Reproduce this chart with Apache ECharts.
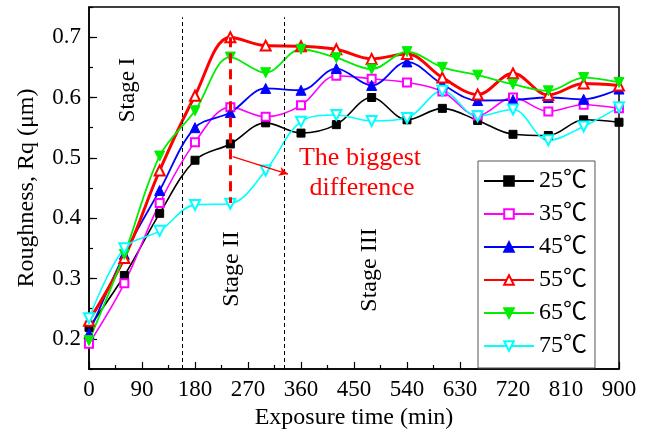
<!DOCTYPE html>
<html>
<head>
<meta charset="utf-8">
<script src="https://cdn.jsdelivr.net/npm/echarts@6/dist/echarts.min.js"></script>
<style>
  html, body { margin: 0; padding: 0; background: #fff; }
  #chart { width: 651px; height: 435px; }
</style>
</head>
<body>
<div id="chart"></div>
<script>
// exposure time (min)
var times = [0, 60, 120, 180, 240, 300, 360, 420, 480, 540, 600, 660, 720, 780, 840, 900];
// roughness Rq (um) for each temperature
var rq25 = [0.219, 0.305, 0.408, 0.496, 0.523, 0.558, 0.541, 0.555, 0.600, 0.563, 0.582, 0.562, 0.539, 0.537, 0.563, 0.559];
var rq35 = [0.192, 0.292, 0.425, 0.526, 0.584, 0.568, 0.587, 0.636, 0.631, 0.625, 0.610, 0.570, 0.600, 0.577, 0.588, 0.582];
var rq45 = [0.209, 0.340, 0.446, 0.550, 0.575, 0.615, 0.612, 0.648, 0.620, 0.659, 0.622, 0.595, 0.596, 0.600, 0.597, 0.614];
var rq55 = [0.230, 0.334, 0.479, 0.603, 0.700, 0.686, 0.685, 0.680, 0.664, 0.672, 0.633, 0.605, 0.640, 0.604, 0.623, 0.620];
var rq65 = [0.197, 0.340, 0.503, 0.578, 0.667, 0.641, 0.680, 0.666, 0.647, 0.676, 0.650, 0.637, 0.622, 0.611, 0.633, 0.625];
var rq75 = [0.234, 0.350, 0.379, 0.422, 0.424, 0.479, 0.560, 0.571, 0.561, 0.566, 0.611, 0.569, 0.580, 0.529, 0.552, 0.584];

var yTicks = [0.2, 0.3, 0.4, 0.5, 0.6, 0.7];
var names = ["25℃", "35℃", "45℃", "55℃", "65℃", "75℃"];

// stage borders and the "biggest difference" marks
var stageLines = [158, 331];
var diffTime = 240;

var font = "Liberation Serif";

function pairs(vals) {
  var out = [];
  for (var i = 0; i < times.length; i++) out.push([times[i], vals[i]]);
  return out;
}

function mkSeries(name, vals, color, symbol, size, rotate, width) {
  return {
    name: name,
    type: "line",
    smooth: 0.35,
    data: pairs(vals),
    symbol: symbol,
    symbolSize: size,
    symbolRotate: rotate,
    showAllSymbol: true,
    lineStyle: { color: color, width: width },
    itemStyle: { color: color, borderColor: color, borderWidth: 1 },
    emphasis: { disabled: true }
  };
}

var series = [
  mkSeries(names[0], rq25, "#000000", "rect", 8, 0, 1.6),
  mkSeries(names[1], rq35, "#ff00ff", "emptyRect", 8, 0, 1.6),
  mkSeries(names[2], rq45, "#0000ff", "triangle", 10, 0, 1.8),
  mkSeries(names[3], rq55, "#ff0000", "emptyTriangle", 10, 0, 3),
  mkSeries(names[4], rq65, "#00ee00", "triangle", 10, 180, 1.8),
  mkSeries(names[5], rq75, "#00ffff", "emptyTriangle", 10, 180, 1.6)
];

// vertical dashed stage lines
series[0].markLine = {
  silent: true,
  symbol: "none",
  label: { show: false },
  lineStyle: { color: "#000", width: 1, type: [4, 3] },
  data: stageLines.map(function (t) {
    return [{ coord: [t, 0.15] }, { coord: [t, 0.733] }];
  })
};

// red dashed line + arrow
series[3].markLine = {
  silent: true,
  label: { show: false },
  data: [
    [
      { coord: [diffTime, 0.700], symbol: "none", lineStyle: { color: "#ff0000", width: 3, type: [10, 6] } },
      { coord: [diffTime, 0.425], symbol: "none" }
    ],
    [
      { coord: [244, 0.502], symbol: "none", lineStyle: { color: "#ff0000", width: 1.2, type: "solid" } },
      { coord: [338, 0.473], symbol: "arrow", symbolSize: [7, 9] }
    ]
  ]
};

var chart = echarts.init(document.getElementById("chart"));

var option = {
  animation: false,
  backgroundColor: "#fff",
  textStyle: { fontFamily: font },
  grid: {
    left: 89, top: 7, width: 530, height: 366,
    show: true, borderColor: "#000", borderWidth: 1.5, backgroundColor: "transparent"
  },
  xAxis: [{
    type: "value",
    min: 0, max: 900, interval: 90,
    name: "Exposure time (min)",
    nameLocation: "middle",
    nameGap: 37,
    nameTextStyle: { fontFamily: font, fontSize: 24, color: "#000" },
    axisLine: { show: true, lineStyle: { color: "#000", width: 1.5 } },
    axisTick: { show: true, inside: true, length: 7, lineStyle: { color: "#000", width: 1.2 } },
    minorTick: { show: true, splitNumber: 2, length: 4, lineStyle: { color: "#000", width: 1.2 } },
    axisLabel: { fontFamily: font, fontSize: 23, color: "#000", margin: 9 },
    splitLine: { show: false }
  }],
  yAxis: [{
    type: "value",
    min: 0.15, max: 0.75,
    name: "Roughness, Rq (μm)",
    nameLocation: "middle",
    nameGap: 50,
    nameTextStyle: { fontFamily: font, fontSize: 24, color: "#000" },
    axisLine: { show: true, lineStyle: { color: "#000", width: 1.5 } },
    axisTick: { show: true, inside: true, length: 8, customValues: yTicks, lineStyle: { color: "#000", width: 1.2 } },
    axisLabel: {
      fontFamily: font, fontSize: 23, color: "#000", margin: 8,
      customValues: yTicks,
      formatter: function (v) { return v.toFixed(1); }
    },
    splitLine: { show: false }
  }, {
    type: "value",
    min: 0.15, max: 0.75, interval: 0.05,
    position: "left",
    axisLine: { show: false },
    axisTick: { show: true, inside: true, length: 4, lineStyle: { color: "#000", width: 1.2 } },
    axisLabel: { show: false },
    splitLine: { show: false }
  }],
  legend: {
    orient: "vertical",
    left: 478, top: 161,
    width: 119,
    padding: [8, 8, 10, 5],
    itemWidth: 50, itemHeight: 12, itemGap: 9,
    borderColor: "#555", borderWidth: 1,
    backgroundColor: "#fff",
    data: names,
    textStyle: { fontFamily: font + ", Noto Sans CJK SC", fontSize: 24, color: "#000" }
  },
  graphic: [
    { type: "text", x: 128, y: 90, rotation: Math.PI / 2,
      style: { text: "Stage I", font: "23px 'Liberation Serif'", fill: "#000", align: "center", verticalAlign: "middle" } },
    { type: "text", x: 232, y: 269, rotation: Math.PI / 2,
      style: { text: "Stage II", font: "24px 'Liberation Serif'", fill: "#000", align: "center", verticalAlign: "middle" } },
    { type: "text", x: 370, y: 270, rotation: Math.PI / 2,
      style: { text: "Stage III", font: "24px 'Liberation Serif'", fill: "#000", align: "center", verticalAlign: "middle" } },
    { type: "text", x: 360, y: 158,
      style: { text: "The biggest", font: "26px 'Liberation Serif'", fill: "#ff0000", align: "center", verticalAlign: "middle" } },
    { type: "text", x: 362, y: 188,
      style: { text: "difference", font: "26px 'Liberation Serif'", fill: "#ff0000", align: "center", verticalAlign: "middle" } }
  ],
  series: series
};

chart.setOption(option);
</script>
</body>
</html>
